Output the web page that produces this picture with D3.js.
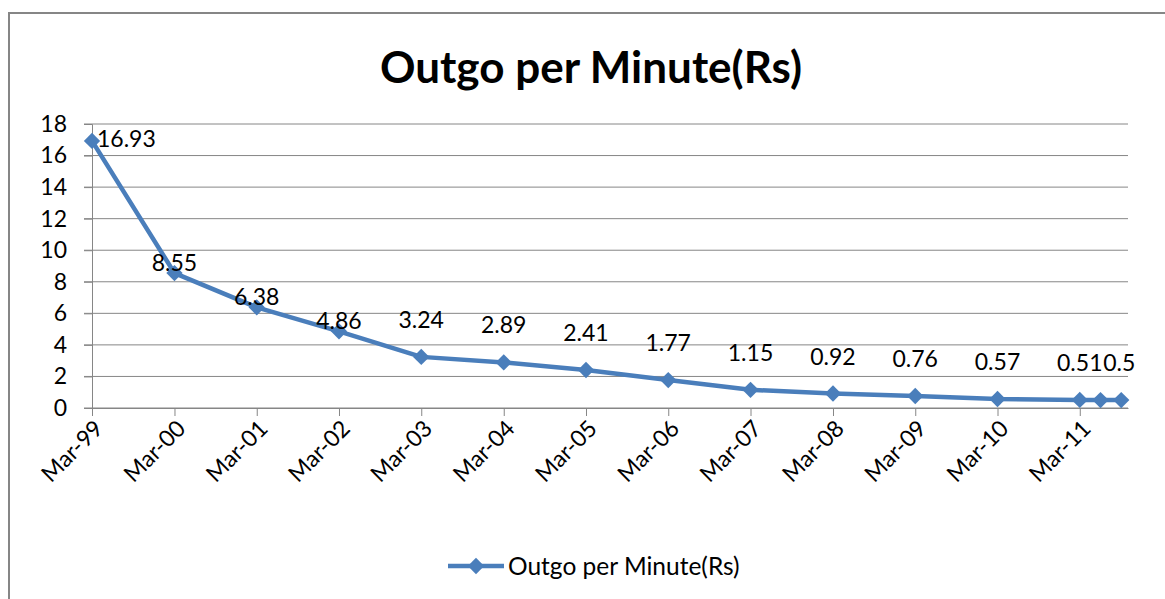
<!DOCTYPE html>
<html>
<head>
<meta charset="utf-8">
<script src="https://cdn.jsdelivr.net/npm/d3@7"></script>
<style>
  body { margin: 0; background: #fff; }
  svg text { font-family: Lato, "Open Sans", sans-serif; fill: #000; }
</style>
</head>
<body>
<svg id="chart" width="1165" height="599"></svg>
<script>
// data
const seriesName = "Outgo per Minute(Rs)";
const months = ["1999-03", "2000-03", "2001-03", "2002-03", "2003-03", "2004-03", "2005-03",
  "2006-03", "2007-03", "2008-03", "2009-03", "2010-03", "2011-03", "2011-06", "2011-09"];
const values = [16.93, 8.55, 6.38, 4.86, 3.24, 2.89, 2.41, 1.77, 1.15, 0.92, 0.76, 0.57, 0.51, 0.5, 0.5];
const labels = ["16.93", "8.55", "6.38", "4.86", "3.24", "2.89", "2.41", "1.77", "1.15", "0.92", "0.76", "0.57", "0.51", "", "0.5"];
const yTicks = [0, 2, 4, 6, 8, 10, 12, 14, 16, 18];

const parse = d3.timeParse("%Y-%m");
const points = months.map((m, i) => ({ date: parse(m), value: values[i], label: labels[i] }));

const svg = d3.select("#chart");
const blue = "#4a7ebb";
const grid = "#868686";
const fs = 23;

// outer chart frame
svg.append("rect")
  .attr("x", 9).attr("y", 13)
  .attr("width", 1200).attr("height", 700)
  .attr("fill", "none").attr("stroke", grid).attr("stroke-width", 2);

// title
svg.append("text")
  .attr("x", 591).attr("y", 83)
  .attr("text-anchor", "middle")
  .attr("font-size", 44).attr("font-weight", "bold")
  .text(seriesName);

const x = d3.scaleTime()
  .domain([parse("1999-03"), parse("2011-10")])
  .range([92, 1128]);
const y = d3.scaleLinear().domain([0, 18]).range([408, 124]);

// gridlines
svg.append("g")
  .selectAll("line")
  .data(yTicks)
  .enter()
  .append("line")
  .attr("x1", 84).attr("x2", 1128)
  .attr("y1", (d) => y(d)).attr("y2", (d) => y(d))
  .attr("stroke", grid).attr("stroke-width", 1);

// y axis
const yAxis = svg.append("g")
  .attr("transform", "translate(92,0)")
  .call(d3.axisLeft(y).tickValues(yTicks).tickSize(8).tickPadding(17));
yAxis.selectAll("text").attr("font-size", fs).attr("font-family", "Lato, sans-serif");
yAxis.selectAll("line, path").attr("stroke", grid);

// x axis, yearly ticks
const xAxis = svg.append("g")
  .attr("transform", "translate(0,408)")
  .call(d3.axisBottom(x)
    .ticks(d3.timeMonth.filter((d) => d.getMonth() === 2))
    .tickFormat(d3.timeFormat("%b-%y"))
    .tickSize(8).tickSizeOuter(0));
xAxis.select(".domain").attr("stroke", grid);
xAxis.selectAll("line").attr("stroke", grid);
xAxis.selectAll("text")
  .attr("font-size", fs).attr("font-family", "Lato, sans-serif")
  .attr("text-anchor", "end")
  .attr("dy", 0).attr("y", 0)
  .attr("transform", "translate(12,22) rotate(-45)");

// series line
const line = d3.line().x((d) => x(d.date)).y((d) => y(d.value));
svg.append("path")
  .datum(points)
  .attr("d", line)
  .attr("fill", "none")
  .attr("stroke", blue)
  .attr("stroke-width", 4.5)
  .attr("stroke-linejoin", "round");

const diamond = d3.symbol().type(d3.symbolDiamond2).size(170);
svg.append("g")
  .selectAll("path")
  .data(points)
  .enter()
  .append("path")
  .attr("d", diamond)
  .attr("transform", (d) => `translate(${x(d.date)},${y(d.value)})`)
  .attr("fill", blue);

// data labels (first sits to the right, the next three close above, the rest higher)
const lift = (i) => (i >= 1 && i <= 3 ? 10 : 37);
svg.append("g")
  .selectAll("text")
  .data(points)
  .enter()
  .append("text")
  .attr("font-size", fs)
  .attr("text-anchor", (d, i) => (i === 0 ? "start" : "middle"))
  .attr("x", (d, i) => (i === 0 ? x(d.date) + 5 : x(d.date) + (i === points.length - 1 ? -2 : 0)))
  .attr("y", (d, i) => (i === 0 ? y(d.value) - 2 : y(d.value) - lift(i)))
  .attr("dy", "0.35em")
  .text((d) => d.label);

// legend
const legend = svg.append("g").attr("transform", "translate(448,566)");
legend.append("line")
  .attr("x1", 0).attr("x2", 56)
  .attr("stroke", blue).attr("stroke-width", 4.5);
legend.append("path")
  .attr("d", diamond)
  .attr("transform", "translate(28,0)")
  .attr("fill", blue);
legend.append("text")
  .attr("x", 60).attr("dy", "0.35em")
  .attr("font-size", 24.5)
  .text(seriesName);
</script>
</body>
</html>
